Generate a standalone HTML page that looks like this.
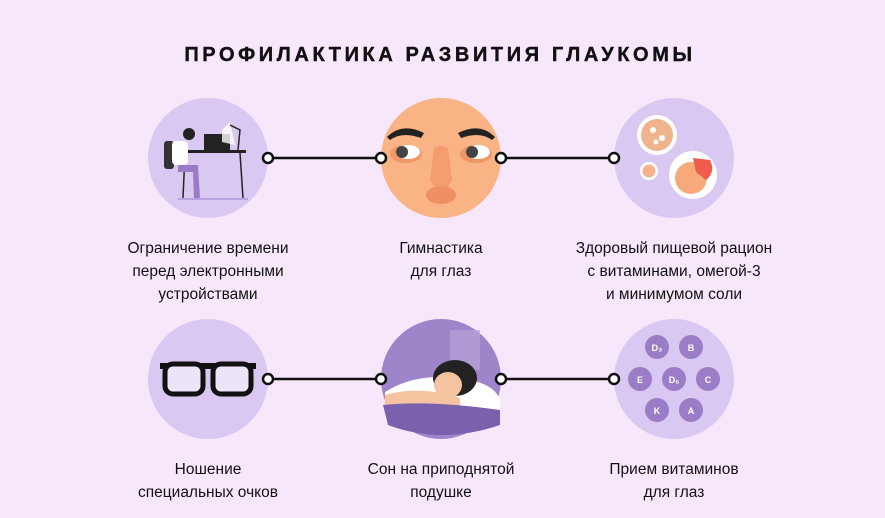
<!DOCTYPE html>
<html><head><meta charset="utf-8"><style>
html,body{margin:0;padding:0;background:#f7e7fb;}
svg{display:block}
text{font-family:"Liberation Sans",sans-serif;}
</style></head><body>
<svg width="885" height="518" viewBox="0 0 885 518">
<rect width="885" height="518" fill="#f7e7fb"/>
<text x="440" y="61" text-anchor="middle" font-size="20" font-weight="bold" letter-spacing="3.6" fill="#111" stroke="#111" stroke-width="0.4">ПРОФИЛАКТИКА РАЗВИТИЯ ГЛАУКОМЫ</text>

<g stroke="#111" stroke-width="2.5">
<line x1="268" y1="158" x2="381" y2="158"/><line x1="501" y1="158" x2="614" y2="158"/>
<line x1="268" y1="379" x2="381" y2="379"/><line x1="501" y1="379" x2="614" y2="379"/>
</g>

<circle cx="208" cy="158" r="60" fill="#d9c8f1"/>
<rect x="178" y="198" width="70" height="2" fill="#b9a2e0"/>
<rect x="178" y="150" width="68" height="3" fill="#222"/>
<line x1="185" y1="153" x2="183" y2="198" stroke="#222" stroke-width="1.5"/>
<line x1="240" y1="153" x2="243" y2="198" stroke="#222" stroke-width="1.5"/>
<rect x="204" y="134" width="26" height="16" fill="#222"/>
<polygon points="222,130 230,122 235,145 222,142" fill="#fff" opacity="0.8"/>
<path d="M230 125 L240 130 L238 150" stroke="#222" fill="none" stroke-width="1.5"/>
<rect x="164" y="141" width="10" height="28" rx="3" fill="#333"/>
<rect x="172" y="141" width="16" height="24" rx="4" fill="#fff"/>
<circle cx="189" cy="134" r="6" fill="#222"/>
<path d="M178 165 L198 165 L200 198 L194 198 L193 172 L178 172 Z" fill="#9a7cc6"/>

<circle cx="441" cy="158" r="60" fill="#f9b384"/>
<path d="M387 137 Q402 122 424 133 L421 138 Q402 131 390 140 Z" fill="#222"/>
<path d="M495 137 Q480 122 458 133 L461 138 Q480 131 492 140 Z" fill="#222"/>
<ellipse cx="406" cy="154" rx="16" ry="9" fill="#ef9865"/>
<ellipse cx="476" cy="154" rx="16" ry="9" fill="#ef9865"/>
<ellipse cx="408" cy="152" rx="12" ry="7" fill="#fff"/>
<ellipse cx="478" cy="152" rx="12" ry="7" fill="#fff"/>
<circle cx="402" cy="152" r="6" fill="#444"/><circle cx="472" cy="152" r="6" fill="#444"/>
<path d="M434 148 Q441 144 448 148 L452 180 Q441 200 430 180 Z" fill="#f59d6e"/>
<ellipse cx="441" cy="195" rx="15" ry="9" fill="#ef8f62"/>

<circle cx="674" cy="158" r="60" fill="#d9c8f1"/>
<circle cx="657" cy="135" r="20" fill="#fff"/>
<circle cx="657" cy="135" r="16" fill="#f0b48c"/>
<circle cx="653" cy="130" r="3" fill="#fff"/><circle cx="662" cy="138" r="3" fill="#fff"/><circle cx="656" cy="142" r="2.5" fill="#fff"/>
<circle cx="649" cy="171" r="9" fill="#fff"/><circle cx="649" cy="171" r="6.5" fill="#f5b38d"/>
<circle cx="693" cy="175" r="24" fill="#fff"/>
<circle cx="691" cy="178" r="16" fill="#f7a979"/>
<path d="M693 158 L710 160 Q716 172 706 180 L696 172 Z" fill="#ef5b4d"/>

<circle cx="208" cy="379" r="60" fill="#d9c8f1"/>
<rect x="160" y="363" width="96" height="6" fill="#111"/>
<rect x="165" y="364" width="38" height="30" rx="8" fill="#ece4f8" stroke="#111" stroke-width="5"/>
<rect x="213" y="364" width="38" height="30" rx="8" fill="#ece4f8" stroke="#111" stroke-width="5"/>

<circle cx="441" cy="379" r="60" fill="#9e85c9"/>
<rect x="450" y="330" width="30" height="40" fill="#b7a2d9" opacity="0.7"/>
<path d="M385 392 Q420 370 470 380 Q495 385 500 400 L500 420 L385 420 Z" fill="#fff"/>
<ellipse cx="455" cy="378" rx="22" ry="18" fill="#222"/>
<ellipse cx="448" cy="385" rx="14" ry="13" fill="#f6c3a0"/>
<path d="M385 395 Q420 385 460 398 L460 410 L385 410 Z" fill="#f6c3a0"/>
<path d="M383 405 Q430 400 500 410 L500 425 Q441 445 388 425 Z" fill="#7a60ad"/>

<circle cx="674" cy="379" r="60" fill="#d9c8f1"/>
<g fill="#9b7cc6">
<circle cx="657" cy="347" r="12"/><circle cx="691" cy="347" r="12"/>
<circle cx="640" cy="379" r="12"/><circle cx="674" cy="379" r="12"/><circle cx="708" cy="379" r="12"/>
<circle cx="657" cy="410" r="12"/><circle cx="691" cy="410" r="12"/>
</g>
<g fill="#fff" font-size="9" font-weight="bold" text-anchor="middle">
<text x="657" y="351">D₃</text><text x="691" y="351">B</text>
<text x="640" y="383">E</text><text x="674" y="383">D₆</text><text x="708" y="383">C</text>
<text x="657" y="414">K</text><text x="691" y="414">A</text>
</g>

<g fill="#fff" stroke="#111" stroke-width="2.5">
<circle cx="268" cy="158" r="5"/><circle cx="381" cy="158" r="5"/><circle cx="501" cy="158" r="5"/><circle cx="614" cy="158" r="5"/>
<circle cx="268" cy="379" r="5"/><circle cx="381" cy="379" r="5"/><circle cx="501" cy="379" r="5"/><circle cx="614" cy="379" r="5"/>
</g>

<g font-size="15.5" fill="#111" text-anchor="middle">
<text x="208" y="253">Ограничение времени</text>
<text x="208" y="276">перед электронными</text>
<text x="208" y="299">устройствами</text>
<text x="441" y="253">Гимнастика</text>
<text x="441" y="276">для глаз</text>
<text x="674" y="253">Здоровый пищевой рацион</text>
<text x="674" y="276">с витаминами, омегой-3</text>
<text x="674" y="299">и минимумом соли</text>
<text x="208" y="474">Ношение</text>
<text x="208" y="497">специальных очков</text>
<text x="441" y="474">Сон на приподнятой</text>
<text x="441" y="497">подушке</text>
<text x="674" y="474">Прием витаминов</text>
<text x="674" y="497">для глаз</text>
</g>
</svg>
</body></html>
